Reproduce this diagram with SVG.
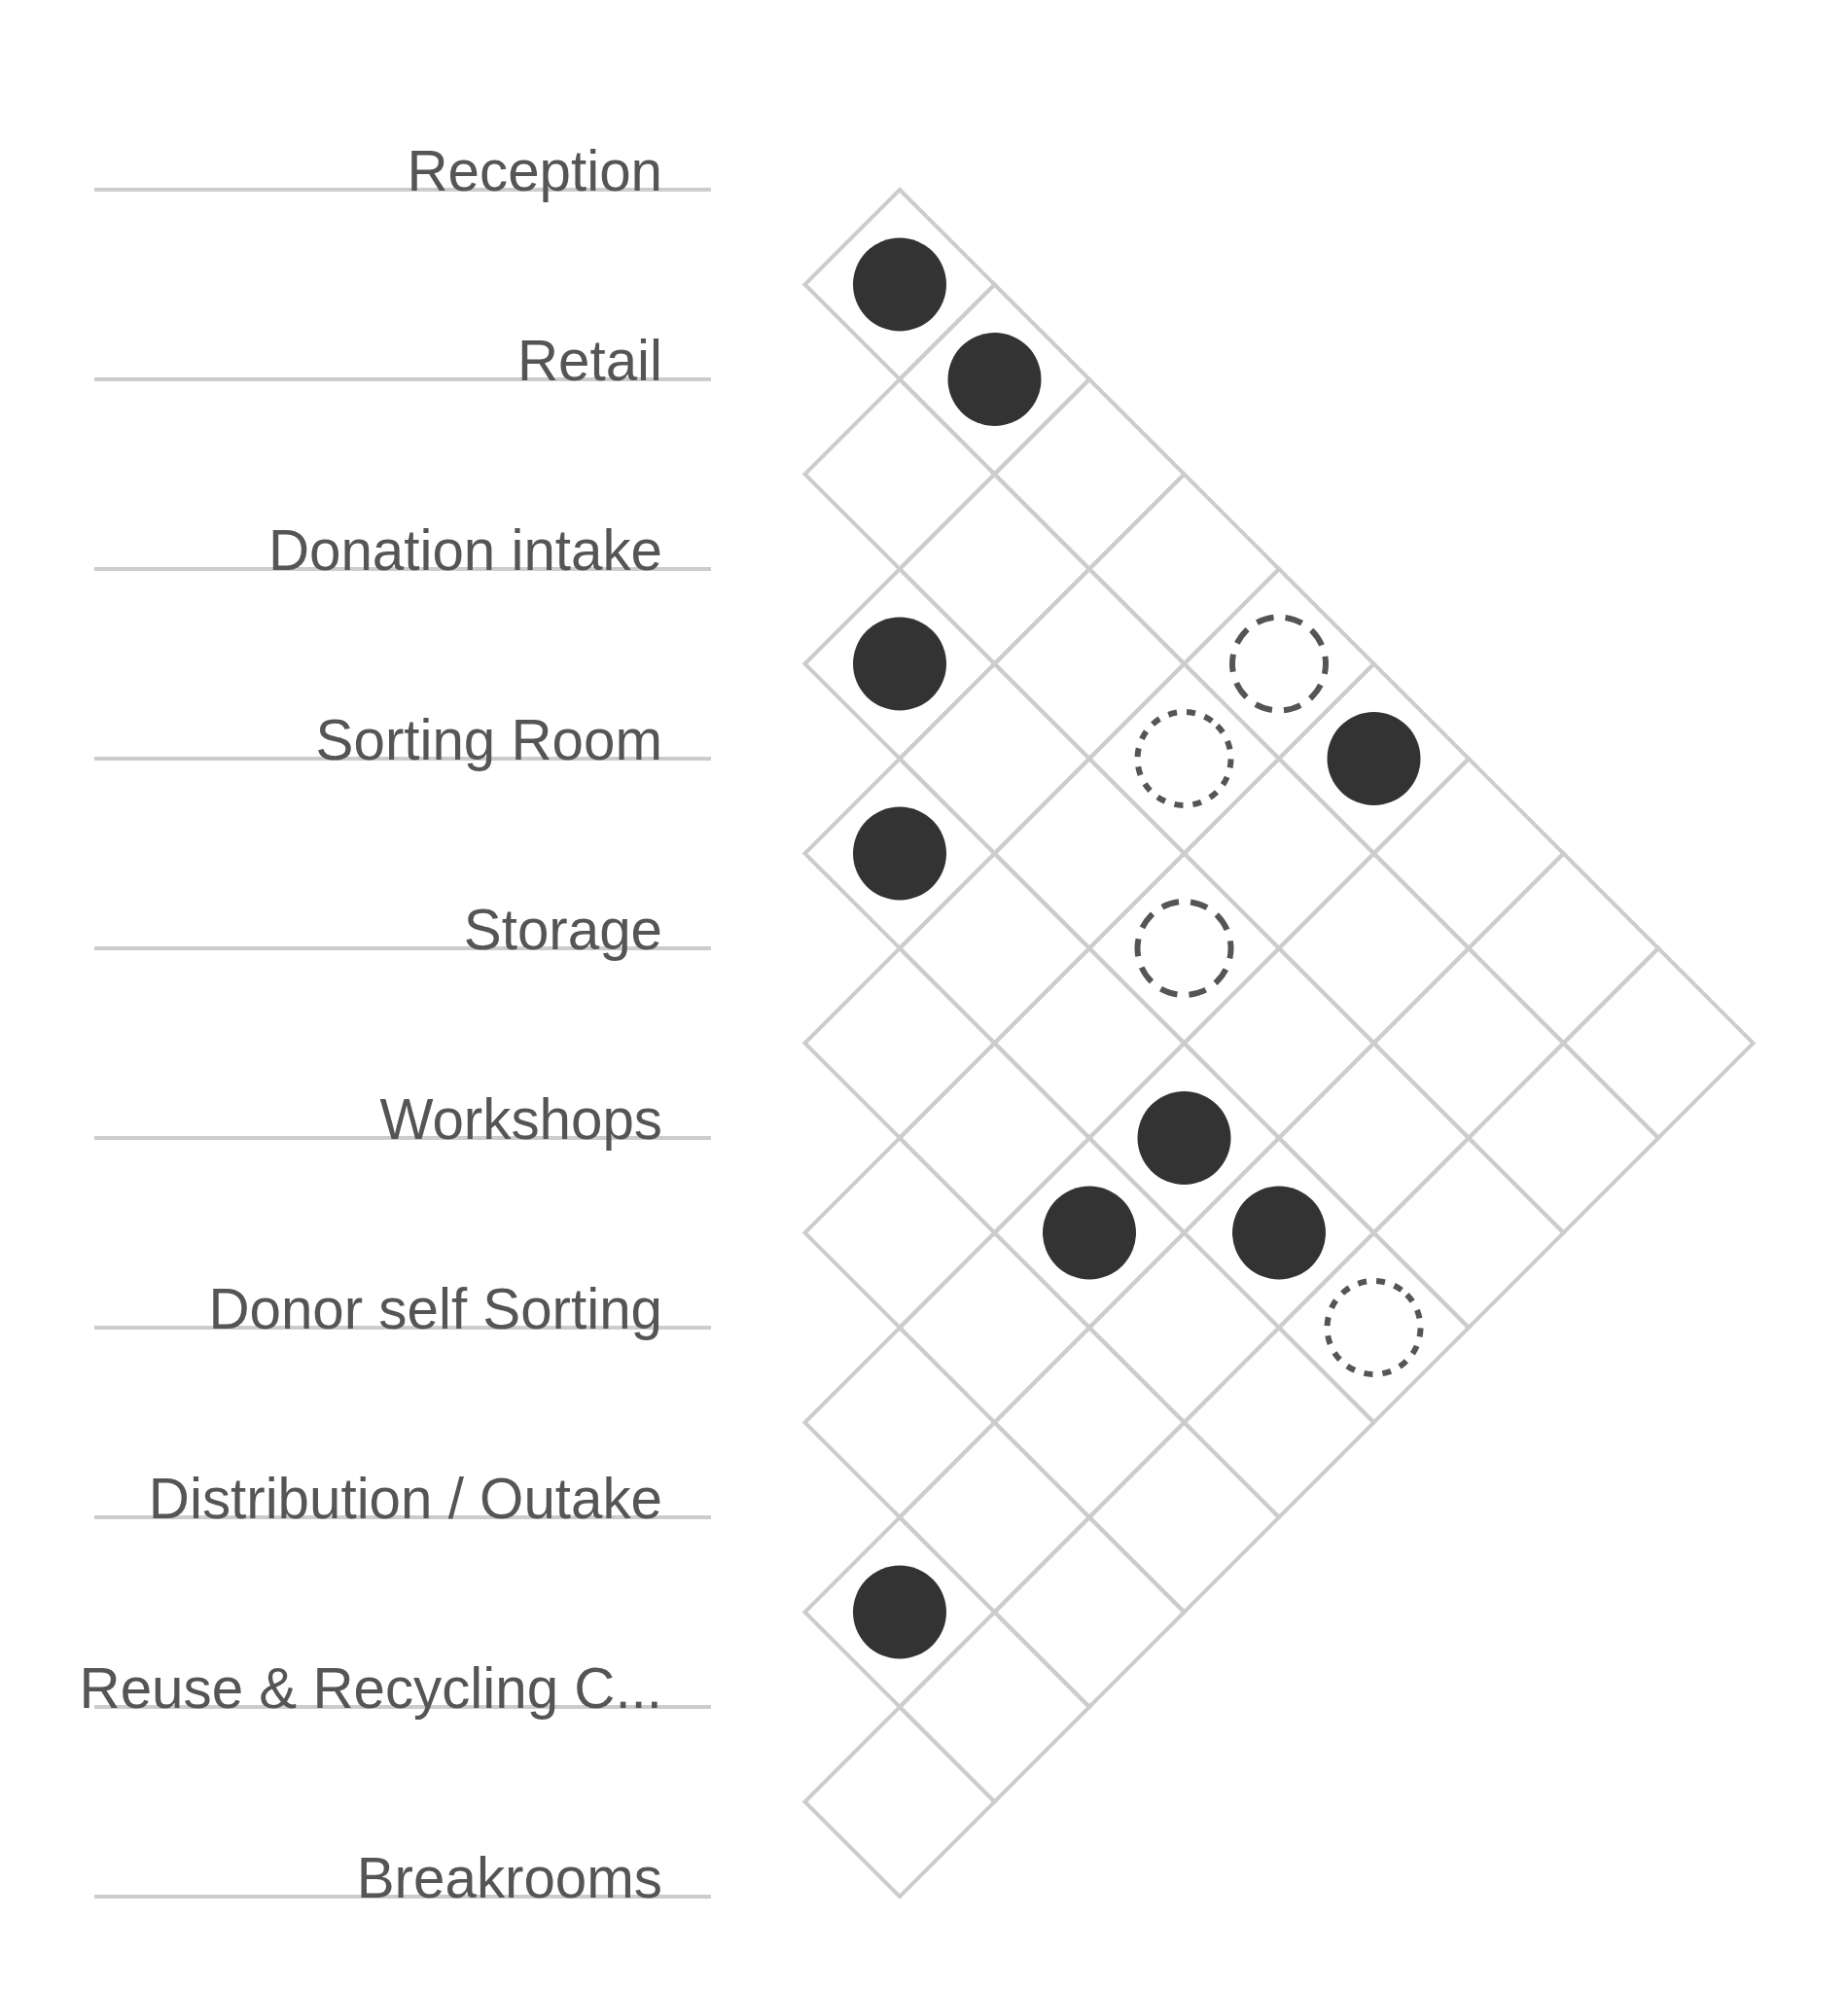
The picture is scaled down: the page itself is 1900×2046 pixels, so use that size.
<svg xmlns="http://www.w3.org/2000/svg" xmlns:xlink="http://www.w3.org/1999/xlink" width="1900" height="2046" viewBox="0 0 1900 2046">
<style>
.row{stroke:#cccccc;stroke-width:4;fill:none}
.lbl{font-family:"Liberation Sans",Arial,sans-serif;font-size:58.3px;fill:#555555;text-anchor:end}
.cell{fill:none;stroke:#cccccc;stroke-width:4}
.full{fill:#333333}
.dash{fill:none;stroke:#555555;stroke-width:6;stroke-dasharray:18 12}
.dot{fill:none;stroke:#555555;stroke-width:6;stroke-dasharray:9 10}
</style>
<defs>
<polygon id="d" points="0,-97.5 97.5,0 0,97.5 -97.5,0"/>
</defs>
<rect width="1900" height="2046" fill="#ffffff"/>
<g id="grid" class="cell">
<use href="#d" x="925" y="292.5"/><use href="#d" x="925" y="487.5"/><use href="#d" x="925" y="682.5"/><use href="#d" x="925" y="877.5"/><use href="#d" x="925" y="1072.5"/><use href="#d" x="925" y="1267.5"/><use href="#d" x="925" y="1462.5"/><use href="#d" x="925" y="1657.5"/><use href="#d" x="925" y="1852.5"/>
<use href="#d" x="1022.5" y="390"/><use href="#d" x="1022.5" y="585"/><use href="#d" x="1022.5" y="780"/><use href="#d" x="1022.5" y="975"/><use href="#d" x="1022.5" y="1170"/><use href="#d" x="1022.5" y="1365"/><use href="#d" x="1022.5" y="1560"/><use href="#d" x="1022.5" y="1755"/>
<use href="#d" x="1120" y="487.5"/><use href="#d" x="1120" y="682.5"/><use href="#d" x="1120" y="877.5"/><use href="#d" x="1120" y="1072.5"/><use href="#d" x="1120" y="1267.5"/><use href="#d" x="1120" y="1462.5"/><use href="#d" x="1120" y="1657.5"/>
<use href="#d" x="1217.5" y="585"/><use href="#d" x="1217.5" y="780"/><use href="#d" x="1217.5" y="975"/><use href="#d" x="1217.5" y="1170"/><use href="#d" x="1217.5" y="1365"/><use href="#d" x="1217.5" y="1560"/>
<use href="#d" x="1315" y="682.5"/><use href="#d" x="1315" y="877.5"/><use href="#d" x="1315" y="1072.5"/><use href="#d" x="1315" y="1267.5"/><use href="#d" x="1315" y="1462.5"/>
<use href="#d" x="1412.5" y="780"/><use href="#d" x="1412.5" y="975"/><use href="#d" x="1412.5" y="1170"/><use href="#d" x="1412.5" y="1365"/>
<use href="#d" x="1510" y="877.5"/><use href="#d" x="1510" y="1072.5"/><use href="#d" x="1510" y="1267.5"/>
<use href="#d" x="1607.5" y="975"/><use href="#d" x="1607.5" y="1170"/>
<use href="#d" x="1705" y="1072.5"/>
</g>
<g id="rows">
<g id="node-reception"><line class="row" x1="97" y1="195" x2="731" y2="195"/><text class="lbl" x="681" y="196">Reception</text></g>
<g id="node-retail"><line class="row" x1="97" y1="390" x2="731" y2="390"/><text class="lbl" x="681" y="391">Retail</text></g>
<g id="node-donation"><line class="row" x1="97" y1="585" x2="731" y2="585"/><text class="lbl" x="681" y="586">Donation intake</text></g>
<g id="node-sorting"><line class="row" x1="97" y1="780" x2="731" y2="780"/><text class="lbl" x="681" y="781">Sorting Room</text></g>
<g id="node-storage"><line class="row" x1="97" y1="975" x2="731" y2="975"/><text class="lbl" x="681" y="976">Storage</text></g>
<g id="node-workshops"><line class="row" x1="97" y1="1170" x2="731" y2="1170"/><text class="lbl" x="681" y="1171">Workshops</text></g>
<g id="node-donor"><line class="row" x1="97" y1="1365" x2="731" y2="1365"/><text class="lbl" x="681" y="1366">Donor self Sorting</text></g>
<g id="node-distribution"><line class="row" x1="97" y1="1560" x2="731" y2="1560"/><text class="lbl" x="681" y="1561">Distribution / Outake</text></g>
<g id="node-reuse"><line class="row" x1="97" y1="1755" x2="731" y2="1755"/><text class="lbl" x="681" y="1756">Reuse &amp; Recycling C...</text></g>
<g id="node-breakrooms"><line class="row" x1="97" y1="1950" x2="731" y2="1950"/><text class="lbl" x="681" y="1951">Breakrooms</text></g>
</g>
<g id="connectors">
<circle class="full" cx="925" cy="292.5" r="48"/>
<circle class="full" cx="1022.5" cy="390" r="48"/>
<circle class="full" cx="925" cy="682.5" r="48"/>
<circle class="dash" cx="1315" cy="682.5" r="48" transform="rotate(-45 1315 682.5)"/>
<circle class="dot" cx="1217.5" cy="780" r="48" transform="rotate(-45 1217.5 780)"/>
<circle class="full" cx="1412.5" cy="780" r="48"/>
<circle class="full" cx="925" cy="877.5" r="48"/>
<circle class="dash" cx="1217.5" cy="975" r="48" transform="rotate(-45 1217.5 975)"/>
<circle class="full" cx="1217.5" cy="1170" r="48"/>
<circle class="full" cx="1120" cy="1267.5" r="48"/>
<circle class="full" cx="1315" cy="1267.5" r="48"/>
<circle class="dot" cx="1412.5" cy="1365" r="48" transform="rotate(-45 1412.5 1365)"/>
<circle class="full" cx="925" cy="1657.5" r="48"/>
</g>
</svg>
